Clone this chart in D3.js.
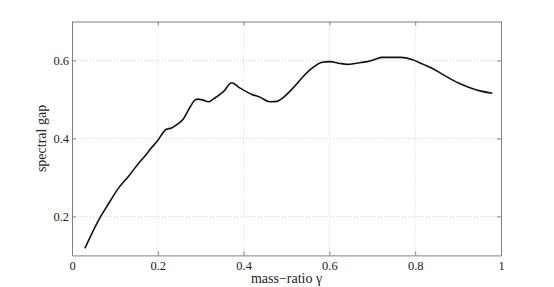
<!DOCTYPE html>
<html><head><meta charset="utf-8">
<script src="https://cdn.jsdelivr.net/npm/d3@7"></script>
<style>body{margin:0;background:#fff}svg{display:block}svg text{font-family:"Liberation Serif","Times New Roman",serif}</style>
</head><body>
<script>
const gammaValues = [0.030,0.067,0.081,0.108,0.131,0.155,0.162,0.174,0.182,0.198,0.219,0.232,0.245,0.258,0.276,0.287,0.294,0.304,0.318,0.329,0.353,0.372,0.392,0.419,0.438,0.461,0.478,0.490,0.515,0.539,0.564,0.581,0.601,0.622,0.642,0.663,0.688,0.704,0.724,0.745,0.766,0.794,0.819,0.836,0.860,0.877,0.901,0.926,0.951,0.980];
const gapValues = [0.118,0.200,0.225,0.272,0.302,0.336,0.345,0.360,0.372,0.392,0.423,0.427,0.436,0.448,0.482,0.499,0.501,0.499,0.494,0.501,0.520,0.543,0.529,0.513,0.506,0.494,0.495,0.503,0.529,0.559,0.584,0.595,0.597,0.593,0.590,0.593,0.597,0.602,0.608,0.608,0.608,0.602,0.590,0.582,0.567,0.556,0.542,0.531,0.522,0.516];
const xTicks = [0,0.2,0.4,0.6,0.8,1];
const yTicks = [0.2,0.4,0.6];
const xLabel = "mass\u2212ratio \u03b3";
const yLabel = "spectral gap";

const W = 554, H = 287;
const m = {left:72, right:53, top:21.5, bottom:31.6};
const svg = d3.select("body").append("svg").attr("width",W).attr("height",H);
const x = d3.scaleLinear().domain([0,1]).range([m.left, W-m.right]);
const y = d3.scaleLinear().domain([0.1,0.7]).range([H-m.bottom, m.top]);
const font = "Liberation Serif";

// grid
svg.append("g").selectAll("line").data(xTicks.slice(1,-1)).join("line")
  .attr("x1",d=>x(d)).attr("x2",d=>x(d)).attr("y1",y(0.1)).attr("y2",y(0.7))
  .attr("stroke","#c8c8c8").attr("stroke-width",0.8).attr("stroke-dasharray","1,2");
svg.append("g").selectAll("line").data(yTicks).join("line")
  .attr("x1",x(0)).attr("x2",x(1)).attr("y1",d=>y(d)).attr("y2",d=>y(d))
  .attr("stroke","#c8c8c8").attr("stroke-width",0.8).attr("stroke-dasharray","1,2");

// axes
const ax = svg.append("g").attr("transform",`translate(0,${y(0.1)})`)
  .call(d3.axisBottom(x).tickValues(xTicks).tickSizeInner(-4).tickSizeOuter(0).tickPadding(6).tickFormat(d3.format("")));
const ay = svg.append("g").attr("transform",`translate(${x(0)},0)`)
  .call(d3.axisLeft(y).tickValues(yTicks).tickSizeInner(-4).tickSizeOuter(0).tickPadding(3).tickFormat(d3.format("")));
const axt = svg.append("g").attr("transform",`translate(0,${y(0.7)})`)
  .call(d3.axisTop(x).tickValues(xTicks).tickSizeInner(-4).tickSizeOuter(0).tickFormat(""));
const ayr = svg.append("g").attr("transform",`translate(${x(1)},0)`)
  .call(d3.axisRight(y).tickValues(yTicks).tickSizeInner(-4).tickSizeOuter(0).tickFormat(""));
[ax,ay,axt,ayr].forEach(g=>{
  g.attr("font-family",font);
  g.select(".domain").attr("stroke","#808080").attr("stroke-width",1);
  g.selectAll(".tick line").attr("stroke","#808080");
  g.selectAll("text").attr("font-family",font).attr("font-size",12.5).attr("fill","#222");
});

// line
svg.append("path").datum(gammaValues.map((g,i)=>[g,gapValues[i]]))
  .attr("fill","none").attr("stroke","#111").attr("stroke-width",1.6)
  .attr("stroke-linejoin","round")
  .attr("d", d3.line().x(d=>x(d[0])).y(d=>y(d[1])).curve(d3.curveMonotoneX));

svg.append("text").attr("x",(x(0)+x(1))/2).attr("y",H-4).attr("text-anchor","middle")
  .attr("font-family",font).attr("font-size",14).attr("fill","#222").text(xLabel);
svg.append("text").attr("transform",`translate(46,${(y(0.1)+y(0.7))/2}) rotate(-90)`)
  .attr("text-anchor","middle").attr("font-family",font).attr("font-size",14).attr("fill","#222").text(yLabel);
</script>
</body></html>
